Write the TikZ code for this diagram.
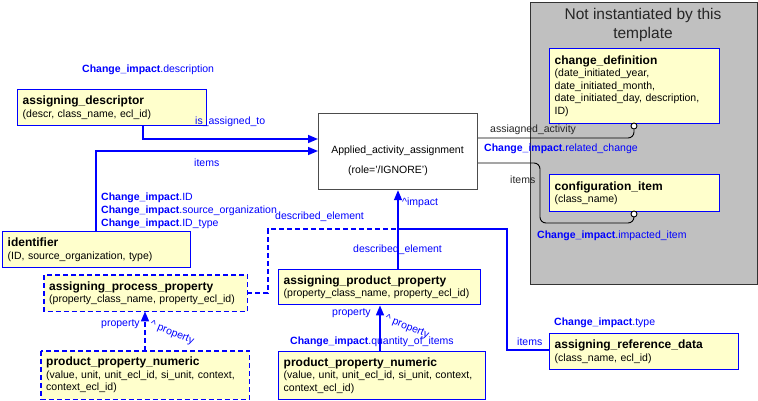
\documentclass[tikz,border=0pt]{standalone}
\usepackage{fontspec}
\setmainfont{Liberation Sans}
\usetikzlibrary{arrows.meta}
\definecolor{eblue}{RGB}{0,0,255}
\definecolor{eyel}{RGB}{255,255,204}
\definecolor{egray}{RGB}{192,192,192}
\newcommand\lblfont{\fontsize{10.5}{12.5}\selectfont}
\newcommand\ttlfont{\fontsize{12}{13}\selectfont\bfseries}
\newcommand\ci{\textbf{Change\_impact}}
\begin{document}
\begin{tikzpicture}[x=1pt,y=-1pt,
 ebox/.style={draw=eblue, fill=eyel, line width=1.4pt, anchor=north west, align=left, inner xsep=5pt, inner ysep=0pt, font=\lblfont},
 dbox/.style={fill=eyel, anchor=north west, align=left, inner xsep=5pt, inner ysep=0pt, font=\lblfont},
 conn/.style={draw=eblue, line width=1.5pt},
 dashln/.style={conn, dash pattern=on 5pt off 3pt},
 arr/.style={-{Triangle[length=10pt,width=8pt]}},
 kline/.style={draw=black, line width=0.9pt, rounded corners=6pt},
 lbl/.style={font=\lblfont, text=eblue, inner sep=0pt, anchor=west},
 klbl/.style={lbl, text=black!85},
 port/.style={circle, draw=black, fill=white, line width=0.9pt, inner sep=0pt, minimum size=6pt}]
\useasboundingbox (0,0) rectangle (758,401);

% grey container
\node[draw=black!80, fill=egray, line width=1.2pt, anchor=north west, minimum width=227pt, minimum height=282pt, inner sep=0pt] (grp) at (530,2) {};
\node[font=\fontsize{15.5}{19}\selectfont, text=black!85, align=center] (ttl) at (643,25) {Not instantiated by this\\template};

% boxes
\node[ebox, text width=160pt, minimum height=75pt] (chdef) at (549,48) {{\ttlfont change\_definition}\\(date\_initiated\_year,\\date\_initiated\_month,\\date\_initiated\_day, description,\\ID)};
\node[ebox, text width=160pt, minimum height=37pt] (cfg) at (549,174) {{\ttlfont configuration\_item}\\(class\_name)};

\node[draw=black!70, fill=white, line width=1.2pt, anchor=north west, minimum width=159pt, minimum height=76pt, inner sep=0pt] (app) at (318,113) {};
\node[font=\lblfont, inner sep=0pt] (appt1) at (397.5,151) {Applied\_activity\_assignment};
\node[font=\lblfont, inner sep=0pt] (appt2) at (388,171) {(role='/IGNORE')};

\node[ebox, text width=179pt, minimum height=36pt] (desc) at (17,89) {{\ttlfont assigning\_descriptor}\\(descr, class\_name, ecl\_id)};
\node[ebox, text width=178pt, minimum height=36pt] (ident) at (2,231) {{\ttlfont identifier}\\(ID, source\_organization, type)};
\node[dbox, text width=193pt, minimum height=36pt] (aproc) at (44,275) {{\ttlfont assigning\_process\_property}\\(property\_class\_name, property\_ecl\_id)};
\draw[dashln] (aproc.north west) rectangle (aproc.south east);
\node[ebox, text width=192pt, minimum height=35pt] (aprod) at (278,269) {{\ttlfont assigning\_product\_property}\\(property\_class\_name, property\_ecl\_id)};
\node[dbox, text width=198pt, minimum height=48pt] (ppnl) at (41,351) {{\ttlfont product\_property\_numeric}\\(value, unit, unit\_ecl\_id, si\_unit, context,\\context\_ecl\_id)};
\draw[dashln] (ppnl.north west) rectangle (ppnl.south east);
\node[ebox, text width=197pt, minimum height=48pt] (ppnr) at (278,351) {{\ttlfont product\_property\_numeric}\\(value, unit, unit\_ecl\_id, si\_unit, context,\\context\_ecl\_id)};
\node[ebox, text width=179pt, minimum height=36pt] (aref) at (549,333) {{\ttlfont assigning\_reference\_data}\\(class\_name, ecl\_id)};

% coordinates
\coordinate (b1) at (143,139);
\coordinate (b2) at (96,151);
\coordinate (b3) at (398,229);
\coordinate (b4) at (268,293);
\coordinate (b5) at (507,350);
\coordinate (b6) at (145,330);
\coordinate (b7) at (380,330);
\coordinate (k1) at (634,138);
\coordinate (k2) at (540,163);
\coordinate (k3) at (540,223);
\node[port] (o1) at (634,126) {};
\node[port] (o2) at (634,214) {};

% blue connectors
\draw[conn, arr] (desc.south -| b1) -- (b1) -- (app.west |- b1);
\draw[conn, arr] (ident.north -| b2) -- (b2) -- (app.west |- b2);
\draw[conn, arr] (aprod.north -| b3) -- (app.south -| b3);
\draw[dashln] (aproc.east |- b4) -- (b4) -- (b4 |- b3) -- (b3);
\draw[conn] (b3) -- (b5 |- b3) -- (b5) -- (aref.west |- b5);
\draw[dashln, arr] (ppnl.north -| b6) -- (aproc.south -| b6);
\draw[conn, arr] (ppnr.north -| b7) -- (aprod.south -| b7);

% black connectors
\draw[kline] (app.east |- k1) -- (k1) -- (o1.south);
\draw[kline] (app.east |- k2) -- (k2) -- (k3) -- (o2.south |- k3) -- (o2.south);

% labels
\node[lbl] (l1) at (82,70) {\ci.description};
\node[lbl] (l2) at (195,122) {is\_assigned\_to};
\node[lbl] (l3) at (194,163) {items};
\node[lbl] (l4) at (101,198) {\ci.ID};
\node[lbl] (l5) at (101,211) {\ci.source\_organization};
\node[lbl] (l6) at (101,224) {\ci.ID\_type};
\node[lbl] (l7) at (275,217) {described\_element};
\node[lbl] (l8) at (402,203) {\^{}impact};
\node[lbl] (l9) at (353,250) {described\_element};
\node[lbl] (l10) at (101,324) {property};
\node[lbl, anchor=center, rotate=-22] (l11) at (172,333) {\^{} property};
\node[lbl] (l12) at (332,313) {property};
\node[lbl, anchor=center, rotate=-22] (l13) at (407,327) {\^{} property};
\node[lbl] (l14) at (290,342) {\ci.quantity\_of\_items};
\node[lbl] (l15) at (554,323) {\ci.type};
\node[lbl] (l16) at (517,342) {items};
\node[klbl] (l17) at (490,130) {assiagned\_activity};
\node[lbl] (l18) at (484,149) {\ci.related\_change};
\node[klbl] (l19) at (510,180) {items};
\node[lbl] (l20) at (537,236) {\ci.impacted\_item};
\end{tikzpicture}
\end{document}
